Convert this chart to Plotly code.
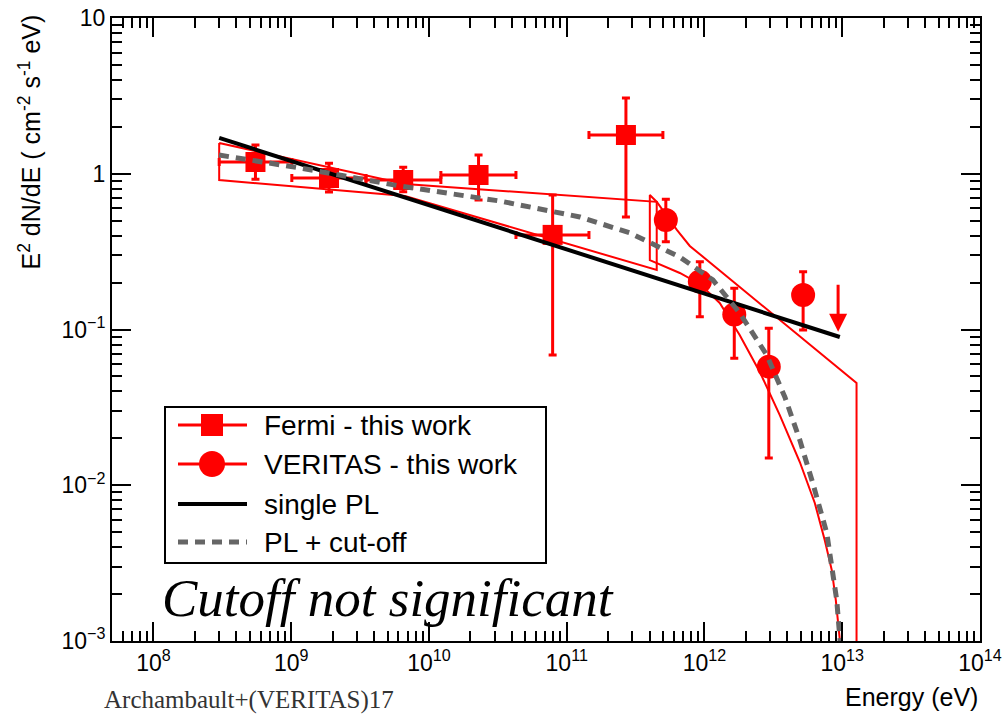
import numpy as np
import plotly.graph_objects as go

# ---------------- data ----------------
# Fermi flux points (E in eV, E^2 dN/dE)
fermi_E = [5.5e8, 1.88e9, 6.5e9, 2.29e10, 7.9e10, 2.69e11]
fermi_E_lo = [3.0e8, 1.01e9, 3.49e9, 1.22e10, 4.28e10, 1.45e11]
fermi_E_hi = [1.01e9, 3.49e9, 1.22e10, 4.28e10, 1.45e11, 4.99e11]
fermi_F = [1.19, 0.939, 0.912, 0.982, 0.405, 1.774]
fermi_F_hi = [1.53, 1.17, 1.10, 1.32, 0.731, 3.06]
fermi_F_lo = [0.921, 0.764, 0.767, 0.678, 0.0686, 0.528]

# VERITAS flux points
veritas_E = [5.24e11, 9.25e11, 1.645e12, 2.93e12, 5.20e12]
veritas_F = [0.505, 0.203, 0.1249, 0.0577, 0.1665]
veritas_F_hi = [0.686, 0.2724, 0.1838, 0.1018, 0.235]
veritas_F_lo = [0.366, 0.1208, 0.0653, 0.01496, 0.0993]

# VERITAS upper limit
ul_E = [9.33e12]
ul_F = [0.198]
ul_tip = [0.0968]

# single power law
pl_E = [3.0e8, 9.6e12]
pl_F = [1.70, 0.0895]

# power law + cut-off
co_E = [2.99e8, 1.157e9, 6.15e9, 3.27e10, 1.245e11, 2.87e11, 6.62e11, 1.15e12,
        1.80e12, 2.83e12, 3.83e12, 4.92e12, 6.11e12, 7.72e12, 9.12e12, 9.77e12]
co_F = [1.319, 1.089, 0.834, 0.668, 0.528, 0.417, 0.292, 0.208,
        0.1277, 0.0686, 0.0369, 0.0195, 0.01033, 0.00494, 0.00183, 0.000875]

# Fermi butterfly outline
fermi_bt_E = [3.0e8, 6.7e9, 4.5e11, 4.5e11, 6.7e9, 3.0e8, 3.0e8]
fermi_bt_F = [1.575, 0.86, 0.66, 0.241, 0.72, 0.912, 1.575]

# VERITAS butterfly outline
ver_bt_E = [9.77e12, 9.44e12, 8.98e12, 8.39e12, 7.46e12, 6.32e12, 4.92e12, 3.52e12,
            2.52e12, 1.80e12, 1.29e12, 9.25e11, 6.62e11, 4.01e11, 4.01e11, 4.51e11,
            6.30e11, 7.82e11, 1.27e13, 1.27e13]
ver_bt_F = [0.000875, 0.001178, 0.00183, 0.00286, 0.00445, 0.00769, 0.0141, 0.0282,
            0.0534, 0.0922, 0.148, 0.196, 0.2307, 0.279, 0.731, 0.659,
            0.436, 0.344, 0.0453, 0.00042]

x_tickvals = [1e8, 1e9, 1e10, 1e11, 1e12, 1e13, 1e14]
x_ticktext = ["10<sup>8</sup>", "10<sup>9</sup>", "10<sup>10</sup>", "10<sup>11</sup>",
              "10<sup>12</sup>", "10<sup>13</sup>", "10<sup>14</sup>"]
y_tickvals = [1e-3, 1e-2, 1e-1, 1, 10]
y_ticktext = ["10<sup>\u22123</sup>", "10<sup>\u22122</sup>", "10<sup>\u22121</sup>", "1", "10"]

legend_labels = ["Fermi - this work", "VERITAS - this work", "single PL", "PL + cut-off"]

# ---------------- figure ----------------
W, H = 1002, 719
X0, X1, Y0, Y1 = 112, 980, 18, 641


def px(x):
    return (x - X0) / (X1 - X0)


def py(y):
    return (Y1 - y) / (Y1 - Y0)


RED = "#ff0000"
GREY = "#666666"
SANS = "Liberation Sans, Arial, sans-serif"
SERIF = "Liberation Serif, Times New Roman, serif"

fermi_E_a = np.array(fermi_E)
fermi_F_a = np.array(fermi_F)
ver_E_a = np.array(veritas_E)
ver_F_a = np.array(veritas_F)

fig = go.Figure()

# butterflies
fig.add_trace(go.Scatter(x=fermi_bt_E, y=fermi_bt_F, mode="lines",
                         line=dict(color=RED, width=2), showlegend=False, hoverinfo="skip"))
fig.add_trace(go.Scatter(x=ver_bt_E, y=ver_bt_F, mode="lines",
                         line=dict(color=RED, width=2), showlegend=False, hoverinfo="skip"))

# Fermi points
fig.add_trace(go.Scatter(
    x=fermi_E, y=fermi_F, mode="markers", name=legend_labels[0], showlegend=False,
    marker=dict(symbol="square", size=20, color=RED),
    error_y=dict(type="data", symmetric=False,
                 array=list(np.array(fermi_F_hi) - fermi_F_a),
                 arrayminus=list(fermi_F_a - np.array(fermi_F_lo)),
                 color=RED, thickness=3, width=4),
    error_x=dict(type="data", symmetric=False,
                 array=list(np.array(fermi_E_hi) - fermi_E_a),
                 arrayminus=list(fermi_E_a - np.array(fermi_E_lo)),
                 color=RED, thickness=3, width=4),
))

# VERITAS points
fig.add_trace(go.Scatter(
    x=veritas_E, y=veritas_F, mode="markers", name=legend_labels[1], showlegend=False,
    marker=dict(symbol="circle", size=24, color=RED),
    error_y=dict(type="data", symmetric=False,
                 array=list(np.array(veritas_F_hi) - ver_F_a),
                 arrayminus=list(ver_F_a - np.array(veritas_F_lo)),
                 color=RED, thickness=3, width=4),
))

# models
fig.add_trace(go.Scatter(x=pl_E, y=pl_F, mode="lines", name=legend_labels[2], showlegend=False,
                         line=dict(color="black", width=4)))
fig.add_trace(go.Scatter(x=co_E, y=co_F, mode="lines", name=legend_labels[3], showlegend=False,
                         line=dict(color=GREY, width=5, dash="10px,7px")))

# upper limit arrow
for e, top, tip in zip(ul_E, ul_F, ul_tip):
    fig.add_annotation(x=np.log10(e), y=np.log10(tip), ax=np.log10(e), ay=np.log10(top),
                       xref="x", yref="y", axref="x", ayref="y", text="",
                       showarrow=True, arrowhead=2, arrowsize=1.2, arrowwidth=3,
                       arrowcolor=RED)

# ---------------- manual legend (ROOT style) ----------------
shapes = []
shapes.append(dict(type="rect", xref="paper", yref="paper",
                   x0=px(165), x1=px(546), y0=py(563), y1=py(407),
                   line=dict(color="black", width=2), fillcolor="white", layer="above"))
rows = [425, 464, 504, 542]
line_styles = [dict(color=RED, width=3), dict(color=RED, width=3),
               dict(color="black", width=4), dict(color=GREY, width=5, dash="10px,7px")]
for r, ls in zip(rows, line_styles):
    shapes.append(dict(type="line", xref="paper", yref="paper",
                       x0=px(178), x1=px(247), y0=py(r), y1=py(r), line=ls, layer="above"))
# square marker
shapes.append(dict(type="rect", xref="paper", yref="paper",
                   x0=px(201), x1=px(223), y0=py(rows[0] + 11), y1=py(rows[0] - 11),
                   line=dict(width=0), fillcolor=RED, layer="above"))
# circle marker
shapes.append(dict(type="circle", xref="paper", yref="paper",
                   x0=px(199), x1=px(225), y0=py(rows[1] + 13), y1=py(rows[1] - 13),
                   line=dict(width=0), fillcolor=RED, layer="above"))

annotations = []
for r, lab in zip(rows, legend_labels):
    annotations.append(dict(xref="paper", yref="paper", x=px(262), y=py(r),
                            xanchor="left", yanchor="middle", text=lab, showarrow=False,
                            font=dict(family=SANS, size=28, color="black")))

# axis titles (ROOT style placement)
annotations.append(dict(xref="paper", yref="paper", x=px(30), y=py(13),
                        xanchor="center", yanchor="top", textangle=-90,
                        text="E<sup>2</sup> dN/dE ( cm<sup>-2</sup> s<sup>-1</sup> eV)",
                        showarrow=False, font=dict(family=SANS, size=25, color="black")))
annotations.append(dict(xref="paper", yref="paper", x=px(980), y=py(697),
                        xanchor="right", yanchor="middle", text="Energy (eV)",
                        showarrow=False, font=dict(family=SANS, size=25, color="black")))
annotations.append(dict(xref="paper", yref="paper", x=px(160), y=py(598),
                        xanchor="left", yanchor="middle", text="Cutoff not significant",
                        showarrow=False,
                        font=dict(family=SERIF, size=53, color="black", style="italic")))
annotations.append(dict(xref="paper", yref="paper", x=px(103), y=py(700),
                        xanchor="left", yanchor="middle", text="Archambault+(VERITAS)17",
                        showarrow=False, borderpad=0,
                        font=dict(family=SERIF, size=25, color="#333333")))

for a in annotations:
    fig.add_annotation(**a)

axis_common = dict(
    type="log", showline=True, linecolor="black", linewidth=2, mirror="allticks",
    ticks="inside", ticklen=19, tickwidth=1.5, tickcolor="black",
    showgrid=False, zeroline=False, automargin=False,
    tickfont=dict(family=SANS, size=23, color="black"),
    minor=dict(ticks="inside", ticklen=10, tickwidth=1.5, tickcolor="black",
               dtick="D1", showgrid=False),
)

fig.update_layout(
    width=W, height=H,
    margin=dict(l=X0, r=W - X1, t=Y0, b=H - Y1, autoexpand=False),
    paper_bgcolor="white", plot_bgcolor="white",
    showlegend=False,
    shapes=shapes,
    xaxis=dict(range=[np.log10(5e7), 14], tickvals=x_tickvals, ticktext=x_ticktext, **axis_common),
    yaxis=dict(range=[-3, 1], tickvals=y_tickvals, ticktext=y_ticktext, **axis_common),
)

fig.write_html("out.html", config={"displayModeBar": False},
               post_script="document.body.style.margin='0px';document.body.style.padding='0px';")
